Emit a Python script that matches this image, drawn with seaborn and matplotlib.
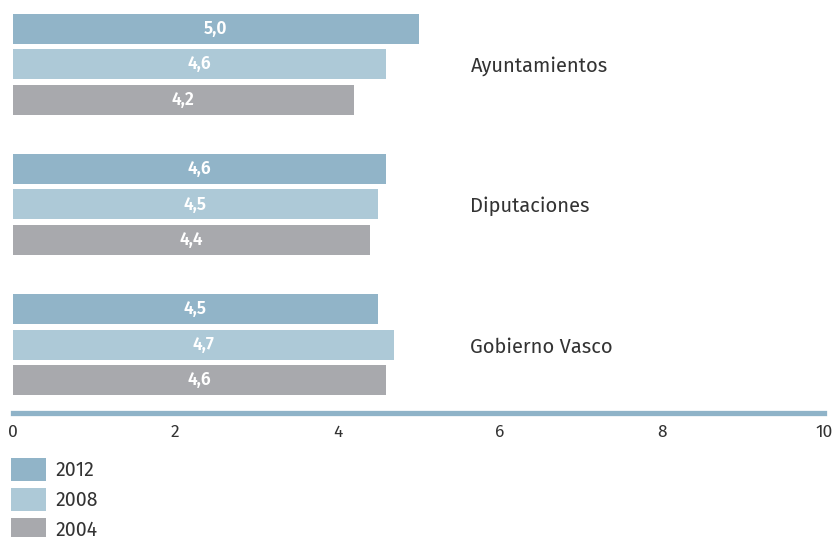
import matplotlib
matplotlib.use("Agg")
import matplotlib.pyplot as plt
import pandas as pd
import seaborn as sns
from matplotlib.patches import Patch

categories = ["Ayuntamientos", "Diputaciones", "Gobierno Vasco"]
years = ["2012", "2008", "2004"]
values_2012 = [5.0, 4.6, 4.5]
values_2008 = [4.6, 4.5, 4.7]
values_2004 = [4.2, 4.4, 4.6]
xticks = [0, 2, 4, 6, 8, 10]

colors = {"2012": "#91b4c8", "2008": "#adc9d7", "2004": "#a8a9ad"}

df = pd.DataFrame({
    "categoria": categories * 3,
    "year": ["2012"] * 3 + ["2008"] * 3 + ["2004"] * 3,
    "valor": values_2012 + values_2008 + values_2004,
})

sns.set_style("white")
plt.rcParams["font.family"] = ["Fira Sans", "DejaVu Sans"]

fig = plt.figure(figsize=(8.36, 5.37), dpi=100)
ax = fig.add_axes([13 / 836, 1 - 413 / 537, (824 - 13) / 836, 413 / 537])

sns.barplot(
    data=df, x="valor", y="categoria", hue="year",
    order=categories, hue_order=years, palette=colors,
    orient="h", width=0.76, gap=0.155, dodge=True,
    saturation=1, errorbar=None, legend=False, linewidth=0, ax=ax,
)

# value labels centred in each bar
for cont in ax.containers:
    for bar in cont:
        w = bar.get_width()
        ax.text(w / 2, bar.get_y() + bar.get_height() / 2,
                f"{w:.1f}".replace(".", ","), color="white",
                fontweight="semibold", fontsize=12.5, ha="center", va="center")

# category names to the right of the bars
for i, cat in enumerate(categories):
    ax.text(5.64, i + 0.015, cat, color="#333333", fontsize=14.5,
            ha="left", va="center")

ax.set_xlim(0, 10)
ax.set_ylim(2.486, -0.457)
ax.set_xticks(xticks)
ax.set_xticklabels([str(t) for t in xticks], fontsize=12.5, color="#333333")
ax.set_yticks([])
ax.set_xlabel("")
ax.set_ylabel("")
for s in ["left", "top", "right"]:
    ax.spines[s].set_visible(False)
ax.spines["bottom"].set_color("#8fb3c8")
ax.spines["bottom"].set_linewidth(3.8)
ax.tick_params(axis="x", direction="out", length=3, width=1,
               color="#333333", pad=5)

handles = [Patch(facecolor=colors[y], edgecolor="none") for y in years]
fig.legend(handles, years, loc="upper left",
           bbox_to_anchor=(11 / 836, 1 - 458 / 537),
           frameon=False, borderpad=0, borderaxespad=0,
           handlelength=1.8, handleheight=1.45, handletextpad=0.5,
           labelspacing=0.36, fontsize=14, labelcolor="#333333")

fig.savefig("out.png", dpi=100)
